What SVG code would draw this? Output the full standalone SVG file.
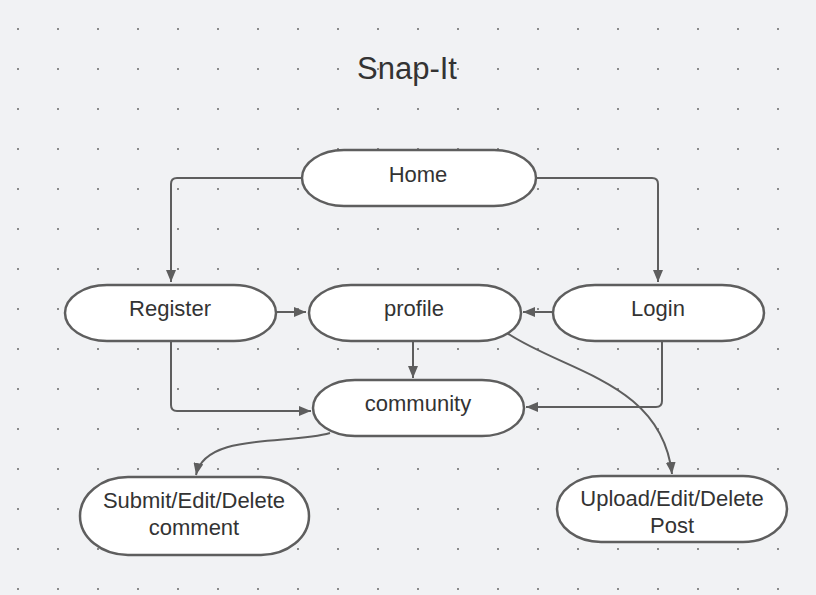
<svg xmlns="http://www.w3.org/2000/svg" width="816" height="595" viewBox="0 0 816 595">
<defs>
<pattern id="dots" x="0" y="0" width="40" height="40" patternUnits="userSpaceOnUse">
<rect x="17" y="28" width="2" height="2" fill="#8a8a8a"/>
</pattern>
<marker id="arr" viewBox="0 0 12 10" refX="12" refY="5" markerWidth="12" markerHeight="10" markerUnits="userSpaceOnUse" orient="auto">
<path d="M0,0 L12,5 L0,10 Z" fill="#5e5e5e"/>
</marker>
</defs>
<style>
.node rect{fill:#ffffff;stroke:#5e5e5e;stroke-width:2.5}
.node text{font-family:"Liberation Sans",Arial,sans-serif;font-size:22px;fill:#333333;text-anchor:middle}
#connectors path{fill:none;stroke:#5e5e5e;stroke-width:2;marker-end:url(#arr)}
</style>
<rect width="816" height="595" fill="#f1f2f4"/>
<rect width="816" height="595" fill="url(#dots)"/>
<text x="407" y="79" font-family="'Liberation Sans',Arial,sans-serif" font-size="31" fill="#333333" text-anchor="middle">Snap-It</text>
<g id="connectors">
<path d="M302,178 H177 Q171,178 171,184 V282"/>
<path d="M536,178 H652 Q658,178 658,184 V282"/>
<path d="M276,312 H306"/>
<path d="M553,312 H523"/>
<path d="M413,341 V378"/>
<path d="M171,341 V405 Q171,411 177,411 H311"/>
<path d="M662,341 V401 Q662,407 656,407 H526"/>
<path d="M330,433 C290,445 205,432 196,475"/>
<path d="M507,333 C565,372 662,382 672,474"/>
</g>
<g id="home" class="node"><rect x="302" y="150" width="234" height="56" rx="42" ry="28"/><text x="418" y="182">Home</text></g>
<g id="register" class="node"><rect x="65" y="285" width="211" height="56" rx="42" ry="28"/><text x="170" y="316">Register</text></g>
<g id="profile" class="node"><rect x="309" y="285" width="212" height="56" rx="42" ry="28"/><text x="414" y="316">profile</text></g>
<g id="login" class="node"><rect x="553" y="285" width="211" height="56" rx="42" ry="28"/><text x="658" y="316">Login</text></g>
<g id="community" class="node"><rect x="313" y="380" width="211" height="56" rx="42" ry="28"/><text x="418" y="411">community</text></g>
<g id="comment" class="node"><rect x="80" y="477" width="229" height="78" rx="48" ry="39"/><text x="194" y="508">Submit/Edit/Delete</text><text x="194" y="535">comment</text></g>
<g id="post" class="node"><rect x="557" y="476" width="230" height="66" rx="44" ry="33"/><text x="672" y="506">Upload/Edit/Delete</text><text x="672" y="533">Post</text></g>
</svg>
